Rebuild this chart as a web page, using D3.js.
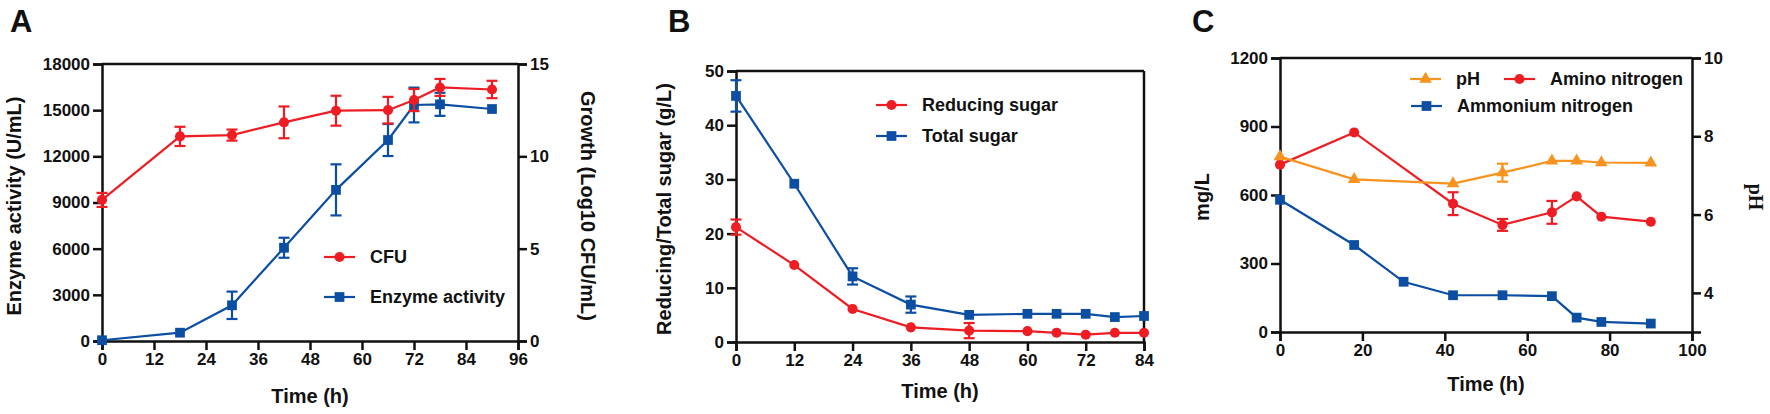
<!DOCTYPE html>
<html>
  <head>
    <meta charset="utf-8">
    <title>Fermentation time courses</title>
    <script src="https://d3js.org/d3.v7.min.js"></script>
    <style>
    body { margin: 0; background: #fff; }
    text { font-family: 'Liberation Sans', Arial, sans-serif; font-weight: bold; fill: #111; }
    .axis path, .axis line { stroke: #111; stroke-width: 2.5; }
    .axis text { font-size: 17px; }
    .title { font-size: 20px; }
    .legend text { font-size: 18px; }
    .letter { font-size: 31px; }
    </style>
  </head>
  <body>
    <script>

      // colours
      var red = "#ee1d23", blue = "#0b4ea2", orange = "#f7931e";

      // panel A - enzyme activity and growth
      var timeA = [0, 18, 30, 42, 54, 66, 72, 78, 90];
      var cfu = [7.64, 11.08, 11.15, 11.84, 12.47, 12.5, 13.05, 13.73, 13.62];
      var cfuErr = [0.38, 0.52, 0.3, 0.86, 0.81, 0.72, 0.6, 0.46, 0.47];
      var enzyme = [50, 540, 2320, 6060, 9820, 13060, 15335, 15380, 15075];
      var enzymeErr = [0, 0, 890, 650, 1660, 1040, 1130, 750, 0];
      var ticksA = [0, 12, 24, 36, 48, 60, 72, 84, 96];
      var ticksEnzyme = [0, 3000, 6000, 9000, 12000, 15000, 18000];
      var ticksCfu = [0, 5, 10, 15];

      // panel B - sugars
      var timeB = [0, 12, 24, 36, 48, 60, 66, 72, 78, 84];
      var reducing = [21.2, 14.2, 6.1, 2.7, 2.1, 2.0, 1.7, 1.35, 1.7, 1.7];
      var reducingErr = [1.4, 0, 0, 0, 1.4, 0, 0, 0, 0, 0];
      var totalSugar = [45.4, 29.2, 12.1, 6.9, 5.0, 5.2, 5.2, 5.2, 4.6, 4.8];
      var totalErr = [2.9, 0, 1.5, 1.5, 0, 0, 0, 0, 0, 0];
      var ticksB = [0, 12, 24, 36, 48, 60, 72, 84];
      var ticksSugar = [0, 10, 20, 30, 40, 50];

      // panel C - nitrogen and pH
      var timeC = [0, 18, 30, 42, 54, 66, 72, 78, 90];
      var ammonium = [579, 381, 220, 161, 161, 157, 63, 44, 37];
      var timeAmino = [0, 18, 42, 54, 66, 72, 78, 90];
      var amino = [733, 874, 562, 469, 524, 594, 505, 483];
      var aminoErr = [0, 0, 50, 26, 50, 0, 0, 0];
      var pH = [7.48, 6.90, 6.79, 7.07, 7.37, 7.37, 7.33, 7.32];
      var pHErr = [0, 0, 0, 0.23, 0, 0, 0, 0];
      var ticksC = [0, 20, 40, 60, 80, 100];
      var ticksMg = [0, 300, 600, 900, 1200];
      var ticksPH = [4, 6, 8, 10];

      var svg = d3.select("body").append("svg")
          .attr("width", 1770)
          .attr("height", 414);

      var shapes = { circle: d3.symbolCircle, square: d3.symbolSquare, triangle: d3.symbolTriangle };
      var sizes = { circle: 80, square: 95, triangle: 70 };

      function drawAxis(axis, tx, ty) {
        return svg.append("g").attr("class", "axis")
            .attr("transform", "translate(" + tx + "," + ty + ")")
            .call(axis.tickSizeOuter(0).tickSize(9).tickPadding(3).tickFormat(d3.format("d")));
      }

      function hline(x1, x2, y) {
        svg.append("line").attr("x1", x1).attr("x2", x2).attr("y1", y).attr("y2", y)
            .attr("stroke", "#111").attr("stroke-width", 2.5);
      }

      function vline(x, y1, y2) {
        svg.append("line").attr("x1", x).attr("x2", x).attr("y1", y1).attr("y2", y2)
            .attr("stroke", "#111").attr("stroke-width", 2.5);
      }

      function series(xs, ys, errs, x, y, color, shape) {
        var g = svg.append("g");
        var pts = xs.map(function(t, i) { return [t, ys[i], errs ? errs[i] : 0]; });
        g.append("path")
            .attr("d", d3.line().x(function(d) { return x(d[0]); }).y(function(d) { return y(d[1]); })(pts))
            .attr("fill", "none").attr("stroke", color).attr("stroke-width", 2.2);
        var eb = g.selectAll(".err").data(pts.filter(function(d) { return d[2] > 0; }))
            .enter().append("g").attr("stroke", color).attr("stroke-width", 2.2);
        eb.append("line").attr("x1", function(d) { return x(d[0]); }).attr("x2", function(d) { return x(d[0]); })
            .attr("y1", function(d) { return y(d[1] - d[2]); }).attr("y2", function(d) { return y(d[1] + d[2]); });
        [-1, 1].forEach(function(s) {
          eb.append("line").attr("x1", function(d) { return x(d[0]) - 5.5; }).attr("x2", function(d) { return x(d[0]) + 5.5; })
              .attr("y1", function(d) { return y(d[1] + s * d[2]); }).attr("y2", function(d) { return y(d[1] + s * d[2]); });
        });
        g.selectAll(".pt").data(pts).enter().append("path")
            .attr("transform", function(d) { return "translate(" + x(d[0]) + "," + y(d[1]) + ")"; })
            .attr("d", d3.symbol().type(shapes[shape]).size(sizes[shape]))
            .attr("fill", color);
      }

      function legend(x, y, label, color, shape) {
        var g = svg.append("g").attr("class", "legend").attr("transform", "translate(" + x + "," + y + ")");
        g.append("line").attr("x1", 0).attr("x2", 31).attr("stroke", color).attr("stroke-width", 2.2);
        g.append("path").attr("transform", "translate(15.5,0)")
            .attr("d", d3.symbol().type(shapes[shape]).size(sizes[shape])).attr("fill", color);
        g.append("text").attr("x", 46).attr("dy", "0.35em").text(label);
      }

      function title(x, y, rot, label, cls) {
        svg.append("text").attr("class", cls || "title")
            .attr("transform", "translate(" + x + "," + y + ") rotate(" + rot + ")")
            .attr("text-anchor", "middle").attr("dy", rot ? "0.35em" : 0)
            .text(label);
      }

      // ---------- A ----------
      var xA = d3.scaleLinear().domain([0, 96]).range([102, 518]);
      var yEnz = d3.scaleLinear().domain([0, 18000]).range([341, 64]);
      var yCfu = d3.scaleLinear().domain([0, 15]).range([341, 64]);
      hline(102, 518, 64);
      drawAxis(d3.axisBottom(xA).tickValues(ticksA), 0, 341);
      drawAxis(d3.axisLeft(yEnz).tickValues(ticksEnzyme), 102, 0);
      drawAxis(d3.axisRight(yCfu).tickValues(ticksCfu), 518, 0);
      series(timeA, enzyme, enzymeErr, xA, yEnz, blue, "square");
      series(timeA, cfu, cfuErr, xA, yCfu, red, "circle");
      legend(324, 257, "CFU", red, "circle");
      legend(324, 297, "Enzyme activity", blue, "square");
      title(14, 206, -90, "Enzyme activity (U/mL)");
      title(588, 206, 90, "Growth (Log10 CFU/mL)");
      title(310, 403, 0, "Time (h)");
      svg.append("text").attr("class", "letter").attr("x", 10).attr("y", 32).text("A");

      // ---------- B ----------
      var xB = d3.scaleLinear().domain([0, 84]).range([736, 1144]);
      var yB = d3.scaleLinear().domain([0, 50]).range([342, 71]);
      hline(736, 1144, 71);
      vline(1144, 71, 342);
      drawAxis(d3.axisBottom(xB).tickValues(ticksB), 0, 342);
      drawAxis(d3.axisLeft(yB).tickValues(ticksSugar), 736, 0);
      series(timeB, reducing, reducingErr, xB, yB, red, "circle");
      series(timeB, totalSugar, totalErr, xB, yB, blue, "square");
      legend(876, 105, "Reducing sugar", red, "circle");
      legend(876, 136, "Total sugar", blue, "square");
      title(664, 209, -90, "Reducing/Total sugar (g/L)");
      title(940, 398, 0, "Time (h)");
      svg.append("text").attr("class", "letter").attr("x", 668).attr("y", 32).text("B");

      // ---------- C ----------
      var xC = d3.scaleLinear().domain([0, 100]).range([1280, 1692]);
      var yMg = d3.scaleLinear().domain([0, 1200]).range([332, 58]);
      var yPH = d3.scaleLinear().domain([3, 10]).range([332, 58]);
      hline(1280, 1692, 58);
      drawAxis(d3.axisBottom(xC).tickValues(ticksC), 0, 332);
      drawAxis(d3.axisLeft(yMg).tickValues(ticksMg), 1280, 0);
      drawAxis(d3.axisRight(yPH).tickValues(ticksPH), 1692, 0);
      series(timeC, ammonium, null, xC, yMg, blue, "square");
      series(timeAmino, amino, aminoErr, xC, yMg, red, "circle");
      series(timeAmino, pH, pHErr, xC, yPH, orange, "triangle");
      legend(1410, 79, "pH", orange, "triangle");
      legend(1504, 79, "Amino nitrogen", red, "circle");
      legend(1411, 106, "Ammonium nitrogen", blue, "square");
      title(1202, 197, -90, "mg/L");
      svg.append("text").attr("class", "title")
          .attr("transform", "translate(1756,197) rotate(90)")
          .attr("text-anchor", "middle").attr("dy", "0.35em")
          .style("font-family", "'Liberation Serif', 'Times New Roman', serif")
          .text("pH");
      title(1486, 391, 0, "Time (h)");
      svg.append("text").attr("class", "letter").attr("x", 1192).attr("y", 32).text("C");

    </script>
  </body>
</html>
